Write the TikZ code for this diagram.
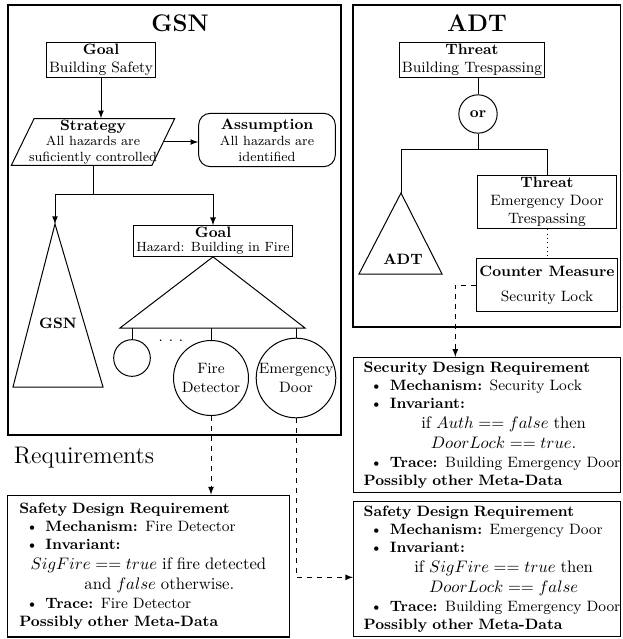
\documentclass[tikz,border=0pt]{standalone}
\usepackage{amsmath}
\usepackage{tikz}
\usetikzlibrary{positioning}
\usetikzlibrary{shapes.geometric}
\tikzstyle{diagram} = [x = 0.6pt, y = -0.6pt, every node/.style={font=\small}]
\tikzstyle{frameStyle} = [draw, thick]
\tikzstyle{titleStyle} = [font=\Large\bfseries]
\tikzstyle{goalStyle} = [draw, semithick, rectangle, align=center, inner xsep=1.5pt, inner ysep=1pt]
\tikzstyle{strategyStyle} = [draw, semithick, trapezium, trapezium left angle=64, trapezium right angle=116, align=center, inner xsep=-3pt, inner ysep=0.5pt, font=\footnotesize]
\tikzstyle{assumptionStyle} = [draw, semithick, rounded corners=7pt, align=center, minimum width=82pt, minimum height=32pt, inner sep=1pt, font=\footnotesize]
\tikzstyle{solutionStyle} = [draw, semithick, circle, align=center, inner sep=0pt, minimum size=45pt]
\tikzstyle{gateStyle} = [draw, semithick, circle, inner sep=0pt, minimum size=23pt, font=\small\bfseries]
\tikzstyle{reqStyle} = [draw, thick, rectangle, align=left, text width=148pt, minimum height=81pt, inner xsep=6pt, inner ysep=2pt, execute at begin node={\setlength{\parindent}{0pt}}]
\tikzstyle{link} = [semithick]
\tikzstyle{linkArrow} = [semithick, -latex]
\tikzstyle{traceArrow} = [semithick, dashed, -latex]
\newcommand{\reqItem}[2]{\mbox{\hspace*{4pt}\textbullet\hspace*{4.5pt}\textbf{#1} #2}\par}
\newcommand{\reqMath}[2]{{\normalsize\leftskip=#1 plus 1fil\rightskip=0pt plus 1fil\parfillskip=0pt #2\par}}
\begin{document}
\begin{tikzpicture}[diagram]
  \useasboundingbox (0,0) rectangle (622,639);

  % GSN side
  \draw [frameStyle] (8,5) rectangle (341,435);
  \node [titleStyle] (gsnTitle) at (180,23) {GSN};
  \node [goalStyle] (goalSafety) at (101,60) {\textbf{Goal}\\Building Safety};
  \node [strategyStyle] (strategy) at (93,142) {\textbf{\small Strategy}\\All hazards are\\suficiently controlled};
  \node [assumptionStyle] (assumption) at (267,140) {\textbf{\small Assumption}\\All hazards are\\identified};
  \draw [linkArrow] (goalSafety.south) -- (goalSafety.south |- strategy.north);
  \draw [linkArrow] (strategy.east) -- (strategy.east -| assumption.west);

  \coordinate (gsnFork) at (strategy.south |- 0,195);
  \coordinate (gsnApex) at (55,224);
  \node [goalStyle, font=\footnotesize] (goalFire) at (213,241) {\textbf{\small Goal}\\[-1pt]Hazard: Building in Fire};
  \draw [link] (strategy.south) -- (gsnFork);
  \draw [linkArrow] (gsnFork) -| (gsnApex);
  \draw [linkArrow] (gsnFork) -| (goalFire.north);

  \draw [link] (gsnApex) -- (13,387) -- (103,387) -- cycle;
  \node (gsnLabel) at (58,323) {\textbf{GSN}};

  \coordinate (fanLeft) at (120,328);
  \coordinate (fanRight) at (305,328);
  \draw [link] (goalFire.south) -- (fanLeft) -- (fanRight) -- cycle;
  \node [solutionStyle, minimum size=22pt] (gsnLeaf) at (132,358) {};
  \node [solutionStyle] (fireDet) at (211,378) {Fire\\Detector};
  \node [solutionStyle] (doorCirc) at (296,378) {Emergency\\Door};
  \node (gsnDots) at (171,341) {$\cdot$\hspace{3.5pt}$\cdot$\hspace{3.5pt}$\cdot$};
  \foreach \leaf in {gsnLeaf, fireDet, doorCirc} {
    \draw [link] (\leaf.north |- fanLeft) -- (\leaf.north);
  }

  % ADT side
  \draw [frameStyle] (353,5) rectangle (620.5,327);
  \node [titleStyle] (adtTitle) at (477,23) {ADT};
  \node [goalStyle, minimum width=86pt] (threatBuilding) at (472,60) {\textbf{Threat}\\Building Trespassing};
  \node [gateStyle] (orGate) at (478,114) {or};
  \draw [link] (orGate.north |- threatBuilding.south) -- (orGate.north);
  \coordinate (adtFork) at (478,150);
  \coordinate (adtApex) at (401,193);
  \node [goalStyle, minimum width=83pt, minimum height=32pt] (threatDoor) at (547,202) {\textbf{Threat}\\Emergency Door\\Trespassing};
  \draw [link] (orGate.south) -- (adtFork);
  \draw [link] (adtFork) -| (adtApex);
  \draw [link] (adtFork) -| (threatDoor.north);
  \draw [link] (adtApex) -- (359,274) -- (442,274) -- cycle;
  \node (adtLabel) at (403,259) {\textbf{ADT}};
  \node [goalStyle, minimum width=83pt, minimum height=32pt] (counterLock) at (547,285) {\textbf{Counter Measure}\\[4pt]Security Lock};
  \draw [link, dotted] (threatDoor) -- (counterLock);

  % Requirements
  \node [font=\Large, anchor=west] (reqTitle) at (8,458) {Requirements};

  \node [reqStyle, text width=155pt, minimum height=85pt, inner xsep=7pt] (fireReq) at (148.5,566) {
    \textbf{Safety Design Requirement}\par
    \reqItem{Mechanism:}{Fire Detector}
    \reqItem{Invariant:}{}
    \reqMath{0pt}{$SigFire == true$ if fire detected}
    \reqMath{13pt}{and $false$ otherwise.}
    \reqItem{Trace:}{Fire Detector}
    \textbf{Possibly other Meta-Data}
  };
  \node [reqStyle] (secReq) at (487,425) {
    \textbf{Security Design Requirement}\par
    \reqItem{Mechanism:}{Security Lock}
    \reqItem{Invariant:}{}
    \reqMath{20pt}{if $Auth == false$ then}
    \reqMath{20pt}{$DoorLock == true.$}
    \reqItem{Trace:}{Building Emergency Door}
    \textbf{Possibly other Meta-Data}
  };
  \node [reqStyle] (doorReq) at (487,569) {
    \textbf{Safety Design Requirement}\par
    \reqItem{Mechanism:}{Emergency Door}
    \reqItem{Invariant:}{}
    \reqMath{20pt}{if $SigFire == true$ then}
    \reqMath{20pt}{$DoorLock == false$}
    \reqItem{Trace:}{Building Emergency Door}
    \textbf{Possibly other Meta-Data}
  };

  \draw [traceArrow] (fireDet.south) -- (fireDet.south |- fireReq.north);
  \draw [traceArrow] (doorCirc.south) |- ([yshift=-5pt]doorReq.west);
  \draw [traceArrow] (counterLock.west) -| ([xshift=-19pt]secReq.north);
\end{tikzpicture}
\end{document}
